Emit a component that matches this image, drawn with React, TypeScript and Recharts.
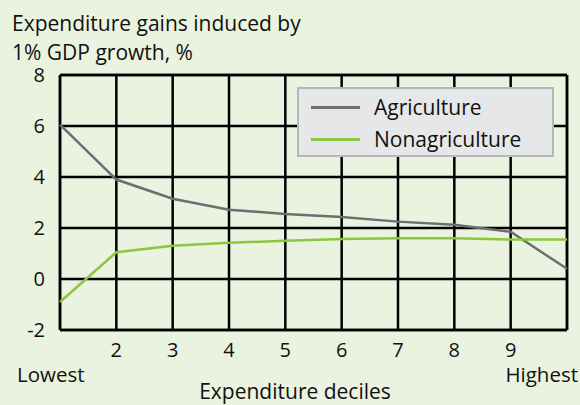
import React from 'react';
import { LineChart, Line, XAxis, YAxis, CartesianGrid, ReferenceLine } from 'recharts';

const deciles = [1, 2, 3, 4, 5, 6, 7, 8, 9, 10];
const agriculture = [6.05, 3.9, 3.15, 2.72, 2.55, 2.43, 2.25, 2.13, 1.85, 0.4];
const nonagriculture = [-0.9, 1.05, 1.3, 1.42, 1.5, 1.57, 1.6, 1.6, 1.55, 1.55];
const yTicks = [-2, 0, 2, 4, 6, 8];
const xTickLabels: Record<number, string> = { 1: 'Lowest', 2: '2', 3: '3', 4: '4', 5: '5', 6: '6', 7: '7', 8: '8', 9: '9', 10: 'Highest' };
const titleLines = ['Expenditure gains induced by', '1% GDP growth, %'];
const xTitle = 'Expenditure deciles';
const seriesNames = ['Agriculture', 'Nonagriculture'];

const data = deciles.map((d, i) => ({ decile: d, Agriculture: agriculture[i], Nonagriculture: nonagriculture[i] }));

const FONT = '"Open Sans", sans-serif';
const BG = '#eaf3df';
const AG = '#6d6e71';
const NON = '#8cc63f';
const colors = [AG, NON];

const XTick = (props: any) => {
  const { x, y, payload } = props;
  const v = payload.value;
  const label = xTickLabels[v];
  if (v === 1) {
    return <text x={x - 43} y={y + 44} textAnchor="start" fontSize={20.5} fontFamily={FONT} fill="#111">{label}</text>;
  }
  if (v === 10) {
    return <text x={x + 11} y={y + 44} textAnchor="end" fontSize={20.5} fontFamily={FONT} fill="#111">{label}</text>;
  }
  return <text x={x} y={y + 19} textAnchor="middle" fontSize={20} fontFamily={FONT} fill="#111">{label}</text>;
};

const YTick = (props: any) => {
  const { x, y, payload } = props;
  return <text x={x} y={y + 7} textAnchor="end" fontSize={20} fontFamily={FONT} fill="#111">{payload.value}</text>;
};

export default function App() {
  return (
    <div style={{ position: 'absolute', left: 0, top: 0, width: 580, height: 405, background: BG, overflow: 'hidden' }}>
      {titleLines.map((t, i) => (
        <div key={t} style={{ position: 'absolute', left: 12, top: 11 + i * 29, fontFamily: FONT, fontSize: 21, lineHeight: '24px', height: 24, color: '#111', whiteSpace: 'nowrap' }}>{t}</div>
      ))}
      <div style={{ position: 'absolute', left: 145, top: 380, width: 300, textAlign: 'center', fontFamily: FONT, fontSize: 21, color: '#111', lineHeight: '22px', height: 22 }}>
        {xTitle}
      </div>
      <LineChart width={580} height={405} data={data} margin={{ top: 75, right: 13, bottom: 0, left: 0 }} style={{ position: 'absolute', left: 0, top: 0 }}>
        <CartesianGrid stroke="#000" strokeWidth={2.5} />
        <XAxis dataKey="decile" type="number" domain={[1, 10]} ticks={deciles} tick={<XTick />} tickLine={false} axisLine={false} height={75} interval={0} />
        <YAxis type="number" domain={[-2, 8]} ticks={yTicks} tick={<YTick />} tickLine={false} axisLine={false} width={60} tickSize={0} tickMargin={15} interval={0} />
        <ReferenceLine x={1} stroke="#000" strokeWidth={2.5} />
        <ReferenceLine x={10} stroke="#000" strokeWidth={2.5} />
        <ReferenceLine y={8} stroke="#000" strokeWidth={2.5} />
        <ReferenceLine y={-2} stroke="#000" strokeWidth={2.5} />
        <Line dataKey="Agriculture" stroke={AG} strokeWidth={2.5} dot={false} isAnimationActive={false} />
        <Line dataKey="Nonagriculture" stroke={NON} strokeWidth={2.5} dot={false} isAnimationActive={false} />
      </LineChart>
      <div style={{ position: 'absolute', left: 297, top: 87, width: 253, height: 66, background: '#e6e7e8', border: '2px solid #b5b6b8', fontFamily: FONT, fontSize: 21, color: '#111' }}>
        {seriesNames.map((name, i) => (
          <div key={name} style={{ position: 'absolute', left: 12, top: 5 + i * 32, height: 26, display: 'flex', alignItems: 'center', whiteSpace: 'nowrap' }}>
            <div style={{ width: 49, height: 3, background: colors[i], marginRight: 14 }} />
            <span>{name}</span>
          </div>
        ))}
      </div>
    </div>
  );
}
